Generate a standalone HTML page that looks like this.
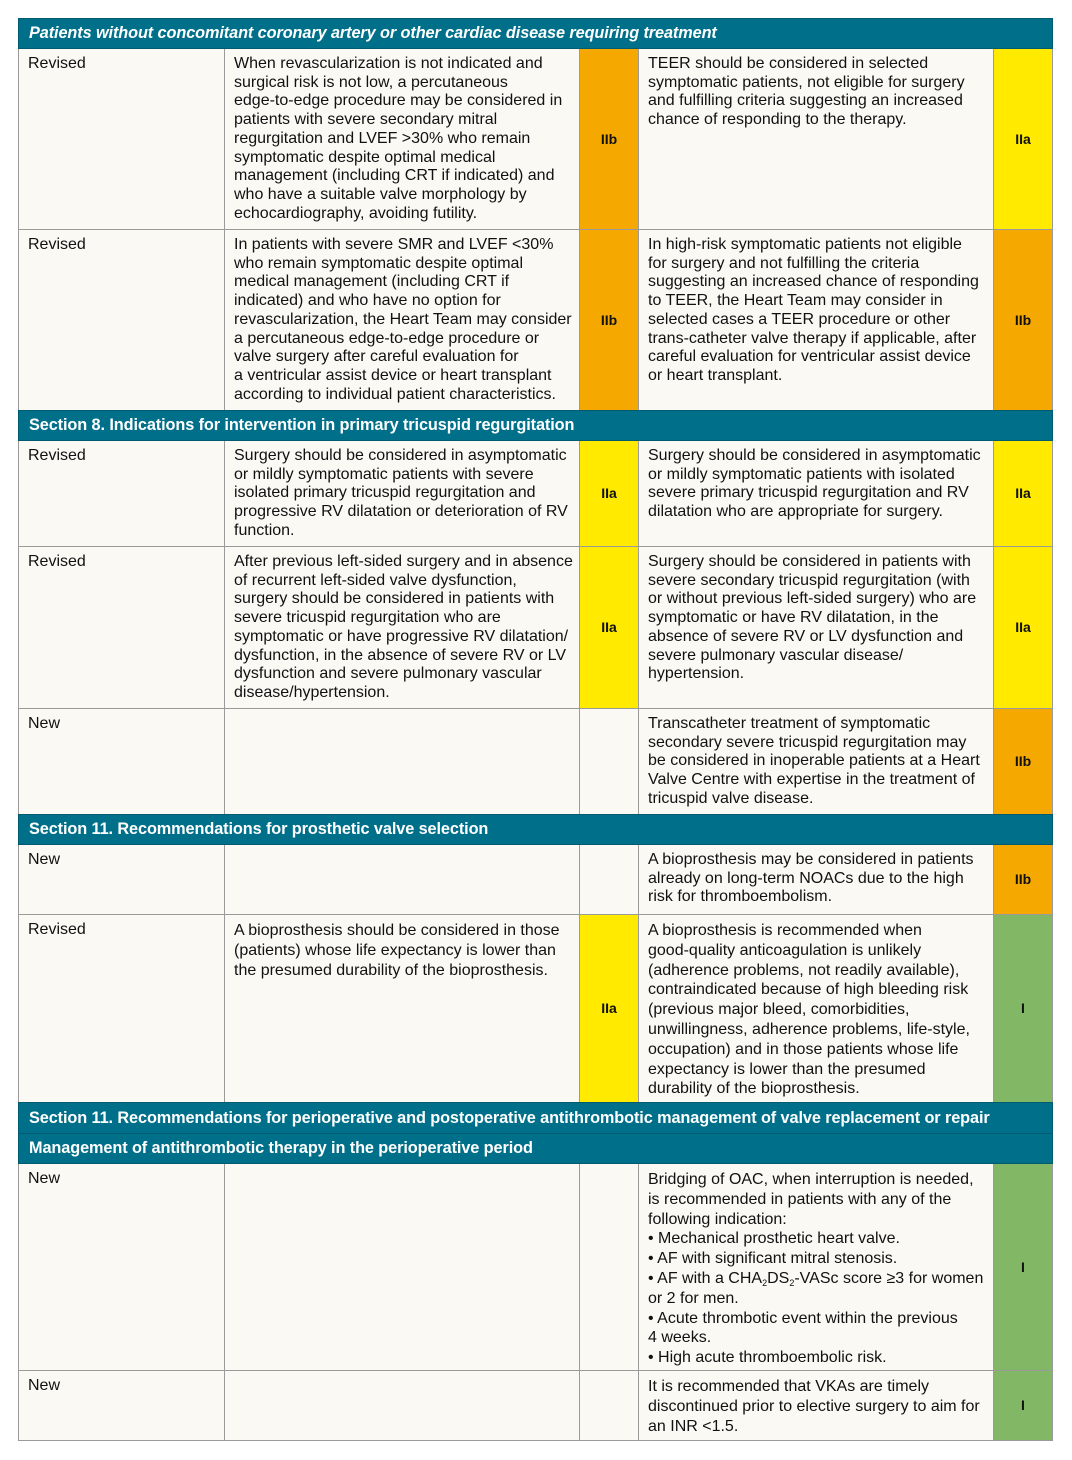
<!DOCTYPE html>
<html><head><meta charset="utf-8"><style>
body{margin:0;width:1072px;height:1460px;background:#fff;position:relative;font-family:"Liberation Sans",sans-serif;}
.r{position:absolute;left:18px;width:1035px;box-sizing:border-box;}
.c{position:absolute;top:0;bottom:0;box-sizing:border-box;border-right:1px solid #9a9a9a;border-bottom:1px solid #9a9a9a;background:#fbf9f4;font-size:16px;line-height:18.7px;color:#111;padding:6px 8px 0 9px;white-space:nowrap;letter-spacing:0;}
.c0{left:0;width:207px;border-left:1px solid #9a9a9a}
.c1{left:207px;width:355px}
.c2{left:562px;width:59px;padding:0;display:flex;align-items:center;justify-content:center;font-weight:bold;font-size:14px;letter-spacing:0}
.c3{left:621px;width:355px}
.c4{left:976px;width:59px;padding:0;display:flex;align-items:center;justify-content:center;font-weight:bold;font-size:14px;letter-spacing:0}
.o{background:#f5a800}.y{background:#ffea00}.g{background:#82b865}
.h{position:absolute;left:18px;width:1035px;box-sizing:border-box;background:#00708a;color:#fff;font-weight:bold;font-size:16.3px;padding-left:10px;display:flex;align-items:center;border:1px solid #005a70;letter-spacing:-0.1px}
sub{font-size:9px;vertical-align:-3px;line-height:0}
</style></head><body>
<div class="h" style="top:18px;height:31px;font-style:italic">Patients without concomitant coronary artery or other cardiac disease requiring treatment</div>

<div class="r" style="top:49px;height:181px">
<div class="c c0">Revised</div>
<div class="c c1">When revascularization is not indicated and<br>surgical risk is not low, a percutaneous<br>edge-to-edge procedure may be considered in<br>patients with severe secondary mitral<br>regurgitation and LVEF &gt;30% who remain<br>symptomatic despite optimal medical<br>management (including CRT if indicated) and<br>who have a suitable valve morphology by<br>echocardiography, avoiding futility.</div>
<div class="c c2 o">IIb</div>
<div class="c c3">TEER should be considered in selected<br>symptomatic patients, not eligible for surgery<br>and fulfilling criteria suggesting an increased<br>chance of responding to the therapy.</div>
<div class="c c4 y">IIa</div>
</div>

<div class="r" style="top:230px;height:181px">
<div class="c c0">Revised</div>
<div class="c c1">In patients with severe SMR and LVEF &lt;30%<br>who remain symptomatic despite optimal<br>medical management (including CRT if<br>indicated) and who have no option for<br>revascularization, the Heart Team may consider<br>a percutaneous edge-to-edge procedure or<br>valve surgery after careful evaluation for<br>a ventricular assist device or heart transplant<br>according to individual patient characteristics.</div>
<div class="c c2 o">IIb</div>
<div class="c c3">In high-risk symptomatic patients not eligible<br>for surgery and not fulfilling the criteria<br>suggesting an increased chance of responding<br>to TEER, the Heart Team may consider in<br>selected cases a TEER procedure or other<br>trans-catheter valve therapy if applicable, after<br>careful evaluation for ventricular assist device<br>or heart transplant.</div>
<div class="c c4 o">IIb</div>
</div>

<div class="h" style="top:410px;height:31px">Section 8. Indications for intervention in primary tricuspid regurgitation</div>

<div class="r" style="top:441px;height:106px">
<div class="c c0">Revised</div>
<div class="c c1">Surgery should be considered in asymptomatic<br>or mildly symptomatic patients with severe<br>isolated primary tricuspid regurgitation and<br>progressive RV dilatation or deterioration of RV<br>function.</div>
<div class="c c2 y">IIa</div>
<div class="c c3">Surgery should be considered in asymptomatic<br>or mildly symptomatic patients with isolated<br>severe primary tricuspid regurgitation and RV<br>dilatation who are appropriate for surgery.</div>
<div class="c c4 y">IIa</div>
</div>

<div class="r" style="top:547px;height:162px">
<div class="c c0">Revised</div>
<div class="c c1">After previous left-sided surgery and in absence<br>of recurrent left-sided valve dysfunction,<br>surgery should be considered in patients with<br>severe tricuspid regurgitation who are<br>symptomatic or have progressive RV dilatation/<br>dysfunction, in the absence of severe RV or LV<br>dysfunction and severe pulmonary vascular<br>disease/hypertension.</div>
<div class="c c2 y">IIa</div>
<div class="c c3">Surgery should be considered in patients with<br>severe secondary tricuspid regurgitation (with<br>or without previous left-sided surgery) who are<br>symptomatic or have RV dilatation, in the<br>absence of severe RV or LV dysfunction and<br>severe pulmonary vascular disease/<br>hypertension.</div>
<div class="c c4 y">IIa</div>
</div>

<div class="r" style="top:709px;height:106px">
<div class="c c0">New</div>
<div class="c c1"></div>
<div class="c c2"></div>
<div class="c c3">Transcatheter treatment of symptomatic<br>secondary severe tricuspid regurgitation may<br>be considered in inoperable patients at a Heart<br>Valve Centre with expertise in the treatment of<br>tricuspid valve disease.</div>
<div class="c c4 o">IIb</div>
</div>

<div class="h" style="top:814px;height:31px">Section 11. Recommendations for prosthetic valve selection</div>

<div class="r" style="top:845px;height:70px">
<div class="c c0">New</div>
<div class="c c1"></div>
<div class="c c2"></div>
<div class="c c3">A bioprosthesis may be considered in patients<br>already on long-term NOACs due to the high<br>risk for thromboembolism.</div>
<div class="c c4 o">IIb</div>
</div>

<div class="r" style="top:915px;height:188px">
<div class="c c0">Revised</div>
<div class="c c1" style="line-height:20px">A bioprosthesis should be considered in those<br>(patients) whose life expectancy is lower than<br>the presumed durability of the bioprosthesis.</div>
<div class="c c2 y">IIa</div>
<div class="c c3" style="line-height:19.8px">A bioprosthesis is recommended when<br>good-quality anticoagulation is unlikely<br>(adherence problems, not readily available),<br>contraindicated because of high bleeding risk<br>(previous major bleed, comorbidities,<br>unwillingness, adherence problems, life-style,<br>occupation) and in those patients whose life<br>expectancy is lower than the presumed<br>durability of the bioprosthesis.</div>
<div class="c c4 g">I</div>
</div>

<div class="h" style="top:1102px;height:32px">Section 11. Recommendations for perioperative and postoperative antithrombotic management of valve replacement or repair</div>
<div class="h" style="top:1133px;height:31px">Management of antithrombotic therapy in the perioperative period</div>

<div class="r" style="top:1164px;height:207px">
<div class="c c0">New</div>
<div class="c c1"></div>
<div class="c c2"></div>
<div class="c c3" style="line-height:19.8px">Bridging of OAC, when interruption is needed,<br>is recommended in patients with any of the<br>following indication:<br>• Mechanical prosthetic heart valve.<br>• AF with significant mitral stenosis.<br>• AF with a CHA<sub>2</sub>DS<sub>2</sub>-VASc score ≥3 for women<br>or 2 for men.<br>• Acute thrombotic event within the previous<br>4 weeks.<br>• High acute thromboembolic risk.</div>
<div class="c c4 g">I</div>
</div>

<div class="r" style="top:1371px;height:70px">
<div class="c c0">New</div>
<div class="c c1"></div>
<div class="c c2"></div>
<div class="c c3" style="line-height:19.8px">It is recommended that VKAs are timely<br>discontinued prior to elective surgery to aim for<br>an INR &lt;1.5.</div>
<div class="c c4 g">I</div>
</div>
</body></html>
